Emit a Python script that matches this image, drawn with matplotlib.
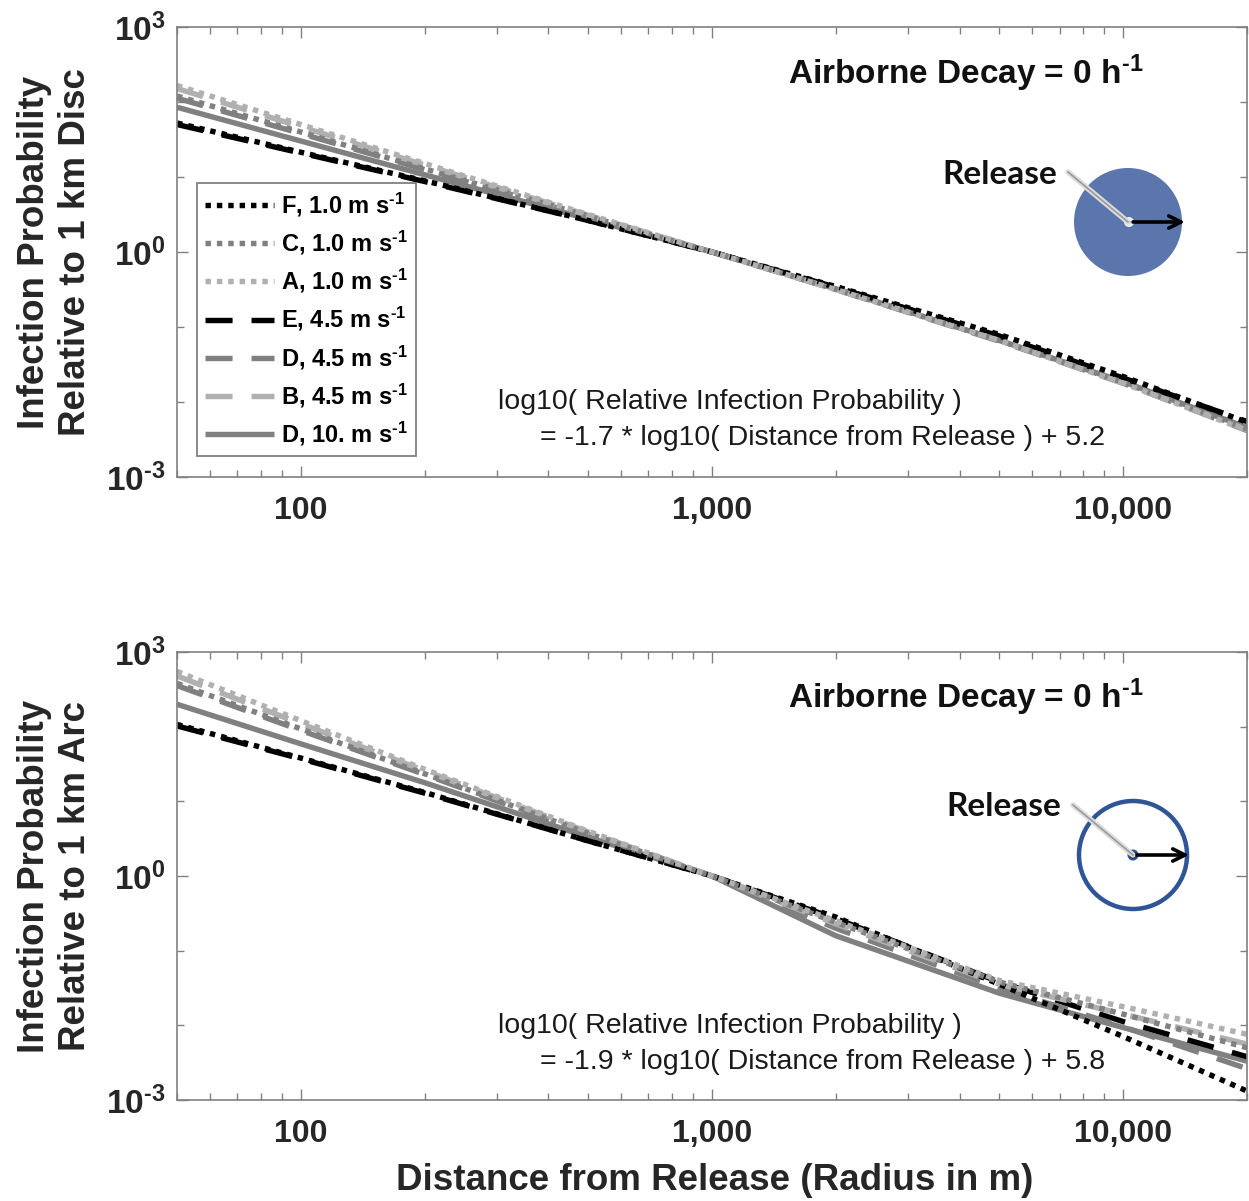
import numpy as np
import matplotlib
matplotlib.use('Agg')
import matplotlib.pyplot as plt
from matplotlib.patches import Circle
from matplotlib.ticker import FixedLocator, LogLocator, NullFormatter

plt.rcParams['font.family'] = ['Liberation Sans', 'DejaVu Sans']
plt.rcParams['mathtext.fontset'] = 'custom'
plt.rcParams['mathtext.rm'] = 'Liberation Sans:bold'
plt.rcParams['mathtext.bf'] = 'Liberation Sans:bold'
plt.rcParams['mathtext.it'] = 'Liberation Sans:bold'

# distance from release (m)
distance = [50, 100, 200, 500, 1000, 2000, 5000, 10000, 20000]

# log10 relative infection probability, top panel (1 km disc)
disc = {
    'F': [1.72, 1.33, 0.95, 0.42, 0.0, -0.46, -1.10, -1.66, -2.27],
    'C': [2.08, 1.60, 1.11, 0.48, 0.0, -0.50, -1.18, -1.74, -2.36],
    'A': [2.22, 1.70, 1.18, 0.50, 0.0, -0.50, -1.18, -1.75, -2.38],
    'E': [1.70, 1.32, 0.94, 0.42, 0.0, -0.47, -1.12, -1.68, -2.26],
    'D45': [2.05, 1.58, 1.10, 0.47, 0.0, -0.50, -1.19, -1.75, -2.38],
    'B': [2.18, 1.67, 1.16, 0.49, 0.0, -0.50, -1.18, -1.75, -2.37],
    'D10': [1.93, 1.48, 1.03, 0.44, 0.0, -0.49, -1.18, -1.73, -2.34],
}

# bottom panel (1 km arc)
arc = {
    'F': [2.03, 1.58, 1.12, 0.47, 0.0, -0.55, -1.45, -2.15, -2.88],
    'C': [2.58, 1.97, 1.37, 0.57, 0.0, -0.62, -1.42, -1.85, -2.30],
    'A': [2.74, 2.08, 1.43, 0.60, 0.0, -0.60, -1.40, -1.75, -2.12],
    'E': [2.01, 1.57, 1.11, 0.47, 0.0, -0.57, -1.42, -1.95, -2.42],
    'D45': [2.55, 1.95, 1.36, 0.56, 0.0, -0.70, -1.50, -2.02, -2.58],
    'B': [2.68, 2.04, 1.41, 0.59, 0.0, -0.64, -1.45, -1.85, -2.25],
    'D10': [2.30, 1.77, 1.25, 0.52, 0.0, -0.80, -1.57, -2.03, -2.48],
}

sup = r'$^{\text{-}1}$'
labels = {
    'F': 'F, 1.0 m s' + sup, 'C': 'C, 1.0 m s' + sup, 'A': 'A, 1.0 m s' + sup,
    'E': 'E, 4.5 m s' + sup, 'D45': 'D, 4.5 m s' + sup, 'B': 'B, 4.5 m s' + sup,
    'D10': 'D, 10. m s' + sup,
}

BLACK, MID, LIGHT = '#000000', '#808080', '#b0b0b0'
DOT = (1.0, 1.1)
DASH = (5, 3.5)
styles = {
    'F': (BLACK, DOT), 'C': (MID, DOT), 'A': (LIGHT, DOT),
    'E': (BLACK, DASH), 'D45': (MID, DASH), 'B': (LIGHT, DASH),
    'D10': (MID, None),
}
order = ['F', 'C', 'A', 'E', 'D45', 'B', 'D10']
draw_order = ['D10', 'E', 'D45', 'B', 'F', 'C', 'A']

W, H = 1249, 1201
fig = plt.figure(figsize=(W / 100, H / 100), dpi=100)


def px(x, y):
    return x / W, 1 - y / H


ax1 = fig.add_axes([177 / W, 1 - 477 / H, 1070 / W, 450 / H])
ax2 = fig.add_axes([177 / W, 1 - 1100 / H, 1070 / W, 448 / H])

for ax, data in [(ax1, disc), (ax2, arc)]:
    for key in draw_order:
        color, dashes = styles[key]
        y = 10 ** np.array(data[key])
        line, = ax.plot(distance, y, color=color, lw=3.9, label=labels[key],
                        solid_capstyle='butt', dash_capstyle='butt')
        if dashes is not None:
            line.set_dashes(dashes)
    ax.set_xscale('log')
    ax.set_yscale('log')
    ax.set_xlim(50, 20000)
    ax.set_ylim(1e-3, 1e3)
    ax.set_xticks([100, 1000, 10000])
    ax.set_xticklabels(['100', '1,000', '10,000'], fontsize=23, fontweight='bold')
    ax.xaxis.set_minor_locator(LogLocator(base=10, subs=np.arange(2, 10)))
    ax.xaxis.set_minor_formatter(NullFormatter())
    ax.set_yticks([1e-3, 1, 1e3])
    ax.set_yticklabels([r'$10^{\text{-}3}$', '$10^{0}$', '$10^{3}$'], fontsize=24)
    ax.yaxis.set_minor_locator(FixedLocator([1e-2, 1e-1, 10, 100]))
    ax.yaxis.set_minor_formatter(NullFormatter())
    ax.tick_params(which='both', direction='in', top=True, right=True, color='#808080',
                   labelcolor='#262626')
    ax.tick_params(which='major', length=8, width=1.0)
    ax.tick_params(which='minor', length=5, width=1.0)
    ax.tick_params(axis='x', which='major', pad=14)
    ax.tick_params(axis='y', which='major', pad=8)
    for s in ax.spines.values():
        s.set_color('#808080')
        s.set_linewidth(1.2)

leg = ax1.legend([ax1.lines[draw_order.index(k)] for k in order], [labels[k] for k in order],
                 loc='lower left', bbox_to_anchor=(20 / 1070, 21 / 450), borderaxespad=0,
                 handlelength=2.9, handletextpad=0.3, labelspacing=0.42,
                 borderpad=0.35, fancybox=False, framealpha=1, edgecolor='#808080',
                 prop={'weight': 'bold', 'size': 17})
leg.get_frame().set_linewidth(1.3)

# axis labels
fig.text(*px(715, 1181), 'Distance from Release (Radius in m)', fontsize=26.5,
         fontweight='bold', ha='center', va='center', color='#262626')
fig.text(*px(55, 252), 'Infection Probability\nRelative to 1 km Disc', fontsize=26.5,
         fontweight='bold', rotation=90, ha='center', va='center', color='#262626',
         multialignment='center')
fig.text(*px(55, 876), 'Infection Probability\nRelative to 1 km Arc', fontsize=26.5,
         fontweight='bold', rotation=90, ha='center', va='center', color='#262626',
         multialignment='center')

# annotations
fits = [(402, '-1.7', '5.2'), (1026, '-1.9', '5.8')]
for yy, slope, icpt in fits:
    fig.text(*px(498, yy), 'log10( Relative Infection Probability )', fontsize=20.5,
             ha='left', va='center', color='#1a1a1a')
    fig.text(*px(540, yy + 36), f'= {slope} * log10( Distance from Release ) + {icpt}',
             fontsize=20.5, ha='left', va='center', color='#1a1a1a')
    fig.text(*px(788, yy - 329), 'Airborne Decay = 0 h' + sup, fontsize=24,
             fontweight='bold', ha='left', va='center', color='#111111')

# release diagrams drawn on a pixel overlay
ov = fig.add_axes([0, 0, 1, 1], zorder=10)
ov.set_xlim(0, W)
ov.set_ylim(H, 0)
ov.axis('off')
ov.patch.set_alpha(0)

# top: filled disc
ov.add_patch(Circle((1128, 222), 54, facecolor='#5a76ad', edgecolor='none'))
ov.plot([1068, 1128], [172, 222], color='#dcdcdc', lw=4, solid_capstyle='round')
ov.plot([1068, 1128], [172, 222], color='#9a9a9a', lw=1.2)
ov.add_patch(Circle((1129, 222), 5, facecolor='#e8eef8', edgecolor='none'))
ov.add_patch(Circle((1129, 222), 1.6, facecolor='#2f5597', edgecolor='none'))
ov.annotate('', xy=(1185, 222), xytext=(1133, 222),
            arrowprops=dict(arrowstyle='->', color='black', lw=2.6, mutation_scale=22,
                            shrinkA=0, shrinkB=0))
ov.text(1000, 174, 'Release', fontsize=24, fontweight='bold', family='Lato',
        ha='center', va='center', color='#111111')

# bottom: ring
ov.add_patch(Circle((1133, 855), 54, facecolor='none', edgecolor='#2f5597', lw=3.2))
ov.plot([1073, 1133], [805, 855], color='#dcdcdc', lw=4, solid_capstyle='round')
ov.plot([1073, 1133], [805, 855], color='#9a9a9a', lw=1.2)
ov.add_patch(Circle((1133, 855), 4.5, facecolor='#111111', edgecolor='#2f5597', lw=1.5))
ov.annotate('', xy=(1189, 855), xytext=(1137, 855),
            arrowprops=dict(arrowstyle='->', color='black', lw=2.6, mutation_scale=22,
                            shrinkA=0, shrinkB=0))
ov.text(1004, 806, 'Release', fontsize=24, fontweight='bold', family='Lato',
        ha='center', va='center', color='#111111')

fig.savefig('out.png', dpi=100)
